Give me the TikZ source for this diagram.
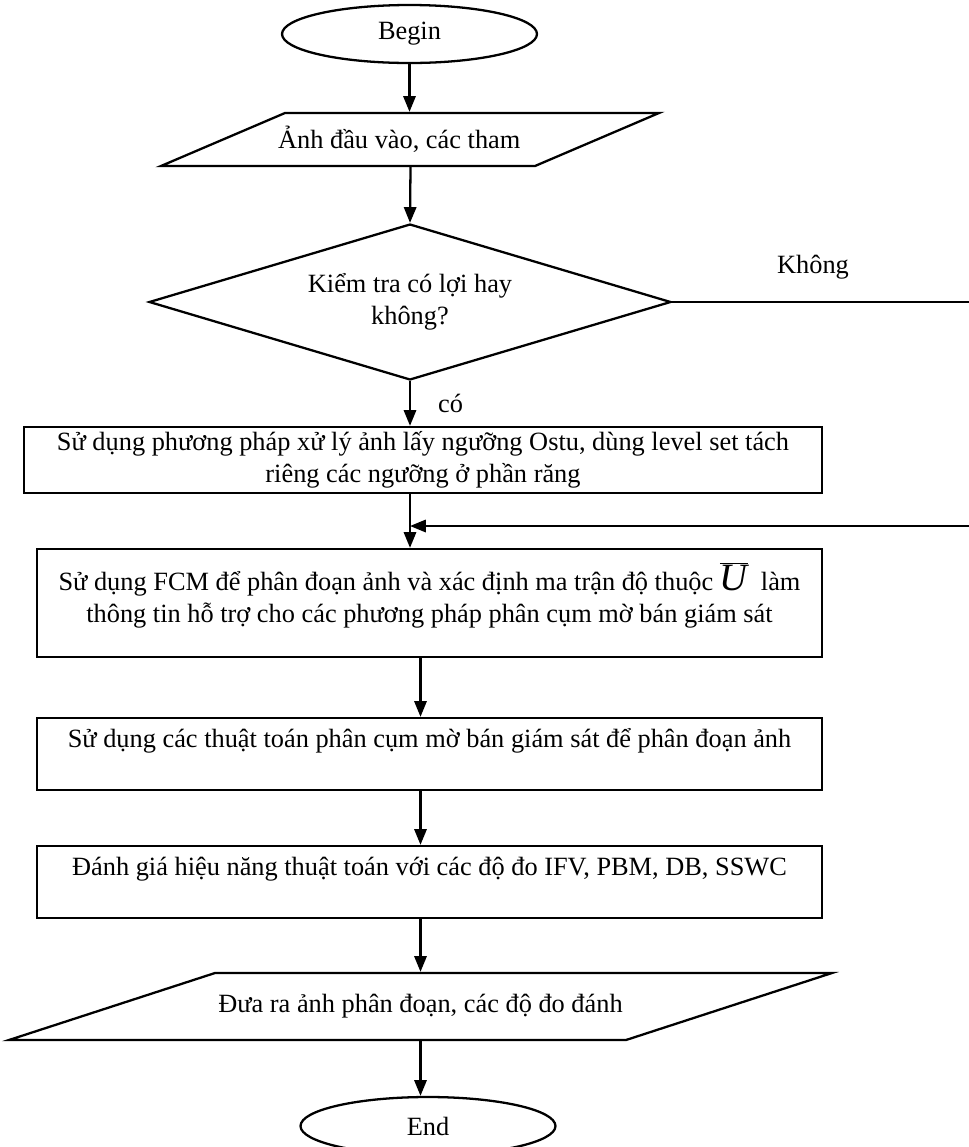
\documentclass[tikz,border=0pt]{standalone}
\usepackage{fontspec}
\setmainfont{Liberation Serif}
\usetikzlibrary{arrows.meta}
\usetikzlibrary{shapes.geometric}

\begin{document}
\begin{tikzpicture}[x=0.02cm, y=-0.02cm, line width=1.3pt,
    font=\fontsize{15pt}{18.1pt}\selectfont,
    term/.style={draw, ellipse, minimum width=5.1cm, minimum height=1.16cm, inner sep=0pt},
    io/.style={inner sep=0pt},
    proc/.style={draw, rectangle, align=center, inner sep=0pt, minimum width=15.7cm},
    cond/.style={draw, diamond, aspect=3.35, align=center, inner sep=0pt, minimum width=10.44cm, minimum height=3.12cm},
    tip/.style={-{Triangle[length=9pt,width=7pt]}}]
\useasboundingbox (0,0) rectangle (968,1147);

\node[term] (begin) at (409.5,34) {Begin};
\node[io, minimum height=1.06cm] (inp) at (410.5,139.5) {Ảnh đầu vào, các tham\rule{0.45cm}{0pt}};
\draw (inp.center) ++(-249.5,26.5) -- ++(124,-53) -- ++(374,0) -- ++(-124,53) -- cycle;
\node[cond] (chk) at (410,302) {Kiểm tra có lợi hay\\không?};
\node[proc, minimum width=15.96cm, minimum height=1.32cm] (otsu) at (423,460)
  {Sử dụng phương pháp xử lý ảnh lấy ngưỡng Ostu, dùng level set tách\\riêng các ngưỡng ở phần răng};
\node[proc, minimum height=2.16cm] (fcm) at (429.5,603)
  {Sử dụng FCM để phân đoạn ảnh và xác định ma trận độ thuộc {\fontsize{22pt}{18.1pt}\selectfont$\overline{\mbox{\itshape U}}$}\ \ làm\\thông tin hỗ trợ cho các phương pháp phân cụm mờ bán giám sát\\[-6pt]\mbox{}};
\node[proc, minimum height=1.44cm] (ssfc) at (429.5,754)
  {Sử dụng các thuật toán phân cụm mờ bán giám sát để phân đoạn ảnh\\\mbox{}};
\node[proc, minimum height=1.44cm] (eval) at (429.5,882)
  {Đánh giá hiệu năng thuật toán với các độ đo IFV, PBM, DB, SSWC\\\mbox{}};
\node[io, minimum height=1.34cm] (outp) at (420.5,1006.5) {Đưa ra ảnh phân đoạn, các độ đo đánh};
\draw (outp.center) ++(-411.5,33.5) -- ++(206,-67) -- ++(617,0) -- ++(-206,67) -- cycle;
\node[term] (endn) at (428,1126) {End};
\node (no) at (813,267) {Không};

\coordinate (back) at (410,526);
\coordinate (loop) at (990,526);

\path[tip]
  (begin.south) edge (begin.south |- inp.north)
  (inp.south) edge (chk.north)
  (chk.south) edge node[right=12pt] {có} (chk.south |- otsu.north)
  (otsu.south -| chk) edge (fcm.north -| chk)
  (fcm.south -| outp) edge (ssfc.north -| outp)
  (ssfc.south -| outp) edge (eval.north -| outp)
  (eval.south -| outp) edge (outp.north)
  (outp.south) edge (endn.north -| outp);
\draw[tip] (chk.east) -- (chk.east -| loop) -- (loop) -- (back);
\end{tikzpicture}
\end{document}
